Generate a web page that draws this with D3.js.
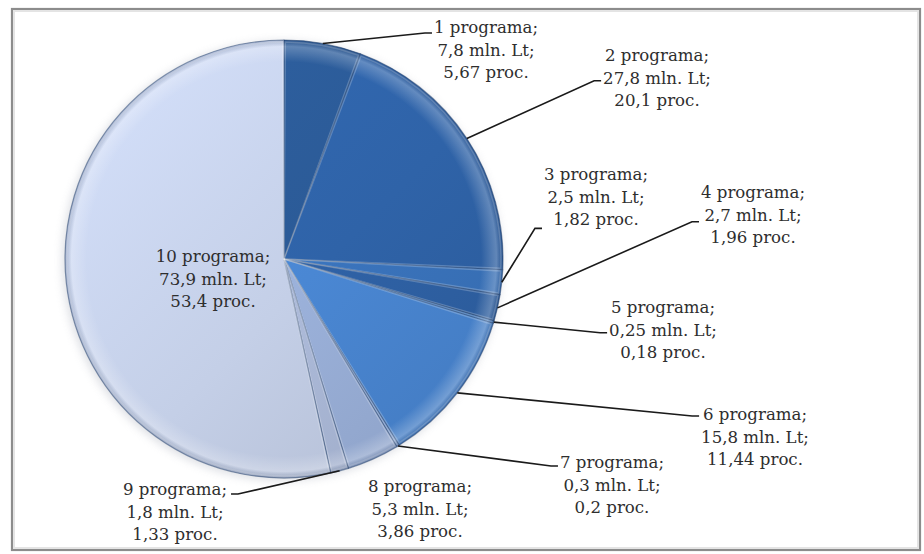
<!DOCTYPE html>
<html>
<head>
<meta charset="utf-8">
<script src="https://cdn.jsdelivr.net/npm/d3@7"></script>
<style>
  html, body { margin: 0; padding: 0; background: #ffffff; }
  svg { display: block; }
</style>
</head>
<body>
<svg id="chart" width="924" height="554"></svg>
<script>
// ---- data ----
const categories = ["1 programa", "2 programa", "3 programa", "4 programa", "5 programa",
                    "6 programa", "7 programa", "8 programa", "9 programa", "10 programa"];
const mlnLt = [7.8, 27.8, 2.5, 2.7, 0.25, 15.8, 0.3, 5.3, 1.8, 73.9];
const percents = [5.67, 20.1, 1.82, 1.96, 0.18, 11.44, 0.2, 3.86, 1.33, 53.4];

// ---- styles / layout ----
const sliceColors = ["#2b5a96", "#2f63a8", "#3a74bd", "#2f62a6", "#3e7bc5",
                     "#4a87d3", "#7f9fd3", "#9bb1da", "#adbbda", "#c4cfe7"];
const labelPos = [[486, 28], [657, 56], [596, 175], [753, 193], [663, 308],
                  [755, 415], [612, 463], [420, 487], [175, 490], [213, 257]];
// [line index, dy, side] where the leader attaches; null = no leader
const leaderAttach = [[0, 5, "L"], [1, 2, "L"], [2, 8, "L"], [1, 6, "L"], [1, 2, "L"],
                      [0, 1, "L"], [0, 3, "L"], null, [0, 4, "R"], null];
const lineH = 22.7;
const cx = 284, cy = 259, R = 219;

const fmt = v => String(v).replace(".", ",");
const labelLines = categories.map((c, i) => [c + ";", fmt(mlnLt[i]) + " mln. Lt;", fmt(percents[i]) + " proc."]);

const svg = d3.select("#chart");
const defs = svg.append("defs");

// frame
svg.append("rect").attr("x", 12).attr("y", 9).attr("width", 908).attr("height", 541)
  .attr("fill", "#ffffff").attr("stroke", "#8c8c8c").attr("stroke-width", 2.2);
svg.append("rect").attr("x", 14).attr("y", 11).attr("width", 904).attr("height", 537)
  .attr("fill", "none").attr("stroke", "#e4e4e4").attr("stroke-width", 2);

// shadow filter
const f = defs.append("filter").attr("id", "shadow").attr("x", "-20%").attr("y", "-20%")
  .attr("width", "140%").attr("height", "140%");
f.append("feGaussianBlur").attr("stdDeviation", 4);

const g = svg.append("g").attr("transform", `translate(${cx},${cy})`);

// soft shadow behind pie
g.append("circle").attr("r", R + 1).attr("cx", -2).attr("cy", 2)
  .attr("fill", "#b8bcc6").attr("opacity", 0.45).attr("filter", "url(#shadow)");

const pie = d3.pie().sort(null).value(d => d);
const arcs = pie(percents);
const arc = d3.arc().innerRadius(0).outerRadius(R);
const rimArc = d3.arc().innerRadius(R).outerRadius(R);

// per-slice gradient (lighter toward top-left, darker bottom-right)
arcs.forEach((a, i) => {
  const base = d3.color(sliceColors[i]);
  const lg = defs.append("linearGradient").attr("id", "lg" + i)
    .attr("gradientUnits", "userSpaceOnUse")
    .attr("x1", -R).attr("y1", -R).attr("x2", R).attr("y2", R);
  lg.append("stop").attr("offset", "0%").attr("stop-color", base.brighter(0.25));
  lg.append("stop").attr("offset", "55%").attr("stop-color", base);
  lg.append("stop").attr("offset", "100%").attr("stop-color", base.darker(0.3));
});

g.selectAll("path.slice").data(arcs).join("path")
  .attr("class", "slice")
  .attr("d", arc)
  .attr("fill", (d, i) => `url(#lg${i})`)
  .attr("stroke", "#1f3e6a").attr("stroke-opacity", 0.5).attr("stroke-width", 1.2)
  .attr("stroke-linejoin", "round");

// inner highlight along slice edges (bevel)
const arcInner = d3.arc().innerRadius(0).outerRadius(R - 2);
g.selectAll("path.hl").data(arcs).join("path")
  .attr("class", "hl")
  .attr("d", d => arcInner({startAngle: d.startAngle + 0.006, endAngle: d.endAngle - 0.006}))
  .attr("fill", "none").attr("stroke", "#ffffff").attr("stroke-opacity", 0.22)
  .attr("stroke-width", 1.5);

// rim bevel
const rg = defs.append("radialGradient").attr("id", "rim")
  .attr("gradientUnits", "userSpaceOnUse").attr("cx", 0).attr("cy", 0).attr("r", R);
rg.append("stop").attr("offset", "0%").attr("stop-color", "#fff").attr("stop-opacity", 0);
rg.append("stop").attr("offset", "90%").attr("stop-color", "#fff").attr("stop-opacity", 0);
rg.append("stop").attr("offset", "97%").attr("stop-color", "#fff").attr("stop-opacity", 0.25);
rg.append("stop").attr("offset", "100%").attr("stop-color", "#1c2f50").attr("stop-opacity", 0.2);
g.append("circle").attr("r", R).attr("fill", "url(#rim)");

// labels
const text = svg.append("g")
  .attr("font-family", "'DejaVu Serif', 'Liberation Serif', serif")
  .attr("font-size", 16.6).attr("fill", "#2e2e2e").attr("text-anchor", "middle");

const labelGroups = text.selectAll("text").data(arcs).join("text")
  .attr("x", (d, i) => labelPos[i][0])
  .attr("y", (d, i) => labelPos[i][1] + 5);
labelGroups.each(function (d, i) {
  const t = d3.select(this);
  labelLines[i].forEach((s, k) => {
    t.append("tspan").attr("x", labelPos[i][0]).attr("dy", k === 0 ? 0 : lineH).text(s);
  });
});

// leader lines
const leaders = svg.append("g").attr("fill", "none").attr("stroke", "#1a1a1a")
  .attr("stroke-width", 1.6);
labelGroups.each(function (d, i) {
  const at = leaderAttach[i];
  if (!at) return;
  const bb = this.getBBox();
  const [sx, sy] = rimArc.centroid(d);
  const start = [cx + sx, cy + sy];
  const ey = labelPos[i][1] + at[0] * lineH + at[1];
  const ex = at[2] === "L" ? bb.x - 2 : bb.x + bb.width + 4;
  const elbow = at[2] === "L" ? ex - 7 : ex + 7;
  leaders.append("path").attr("d", d3.line()([start, [elbow, ey], [ex, ey]]));
});
</script>
</body>
</html>
